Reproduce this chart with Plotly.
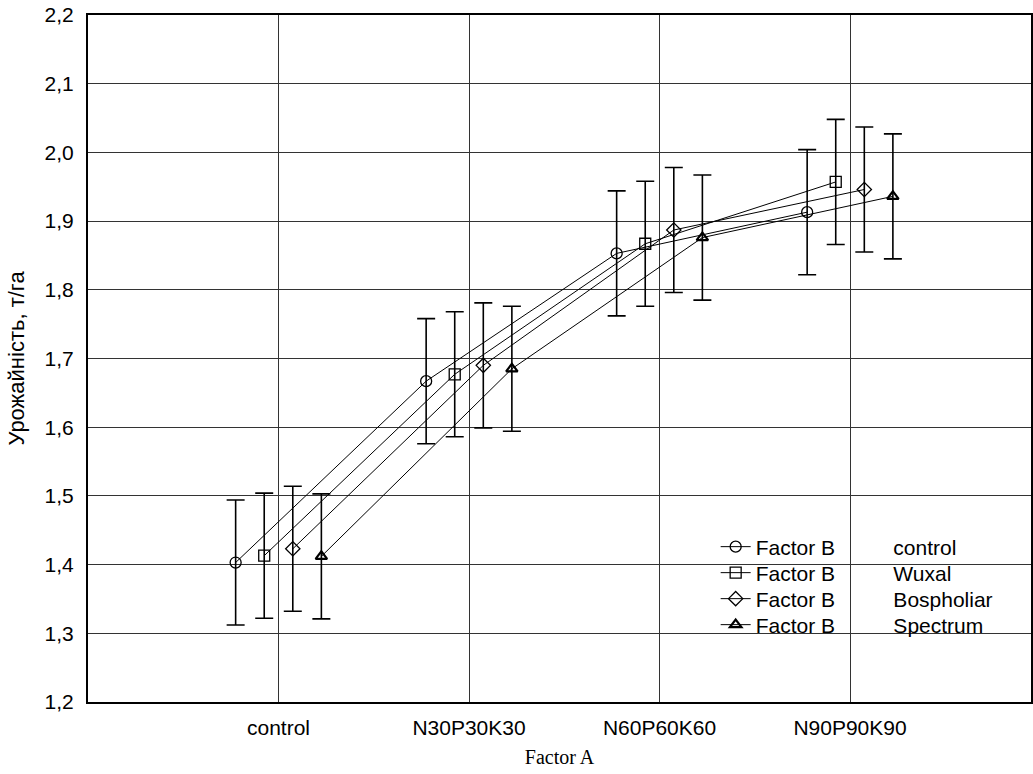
import plotly.graph_objects as go

categories = ["control", "N30P30K30", "N60P60K60", "N90P90K90"]
series_names = ["control", "Wuxal", "Bospholiar", "Spectrum"]
control_vals = [1.403, 1.667, 1.853, 1.913]
wuxal_vals = [1.413, 1.677, 1.867, 1.957]
bospholiar_vals = [1.423, 1.690, 1.887, 1.946]
spectrum_vals = [1.412, 1.685, 1.876, 1.936]
ci_half = [0.091, 0.091, 0.091, 0.091]
y_ticks = [1.2, 1.3, 1.4, 1.5, 1.6, 1.7, 1.8, 1.9, 2.0, 2.1, 2.2]

all_vals = [control_vals, wuxal_vals, bospholiar_vals, spectrum_vals]
offsets = [-0.225, -0.075, 0.075, 0.225]
symbols = ["circle-open", "square-open", "diamond-open", "triangle-up-open"]
msizes = [11, 11, 11, 10]
mline = [1.3, 1.3, 1.3, 2.2]
legend_rows_px = [547, 573, 599, 625]

fig = go.Figure()
nb = "\u00a0"
legend_ids = ["legend", "legend2", "legend3", "legend4"]
for name, vals, off, sym, ms, ml, lid in zip(series_names, all_vals, offsets, symbols, msizes, mline, legend_ids):
    xs = [i + off for i in range(len(categories))]
    fig.add_trace(go.Scatter(
        x=xs, y=vals,
        mode="lines+markers",
        name="Factor B" + nb * 10 + name,
        legend=lid,
        line=dict(color="black", width=1),
        marker=dict(symbol=sym, size=ms, color="black", line=dict(color="black", width=ml)),
        error_y=dict(type="data", array=ci_half, visible=True, color="black", thickness=1.6, width=9),
        hoverinfo="skip",
    ))

legend_common = dict(
    xanchor="left", yanchor="middle",
    bgcolor="rgba(0,0,0,0)", borderwidth=0,
    font=dict(family="Liberation Sans, Arial", size=21, color="black"),
)
legend_layout = {}
for lid, ypx in zip(legend_ids, legend_rows_px):
    legend_layout[lid] = dict(legend_common, x=(717 - 88) / 945, y=(702 - ypx) / 687)

fig.update_layout(
    width=1033, height=774,
    margin=dict(l=88, r=0, t=15, b=72),
    paper_bgcolor="white", plot_bgcolor="white",
    separators=",.",
    font=dict(family="Liberation Sans, Arial", size=21, color="black"),
    showlegend=True,
    xaxis=dict(
        range=[-1, 3.95],
        tickvals=list(range(len(categories))), ticktext=categories,
        showgrid=True, gridcolor="#333", gridwidth=1,
        zeroline=False,
        showline=True, linecolor="black", linewidth=2, mirror=True,
        ticks="outside", ticklen=6, tickcolor="rgba(0,0,0,0)",
        tickfont=dict(family="Liberation Sans, Arial", size=21),
        title=dict(text="Factor A", font=dict(family="Liberation Serif, Times New Roman", size=20), standoff=12),
    ),
    yaxis=dict(
        range=[1.2, 2.2],
        tickvals=y_ticks, tickformat=".1f",
        showgrid=True, gridcolor="#333", gridwidth=1,
        zeroline=False,
        showline=True, linecolor="black", linewidth=2, mirror=True,
        ticks="outside", ticklen=8, tickcolor="rgba(0,0,0,0)",
        tickfont=dict(family="Liberation Sans, Arial", size=21),
        title=dict(text="Урожайність, т/га", font=dict(family="Liberation Sans, Arial", size=22), standoff=14),
    ),
    **legend_layout,
)

fig.write_html("out.html")
